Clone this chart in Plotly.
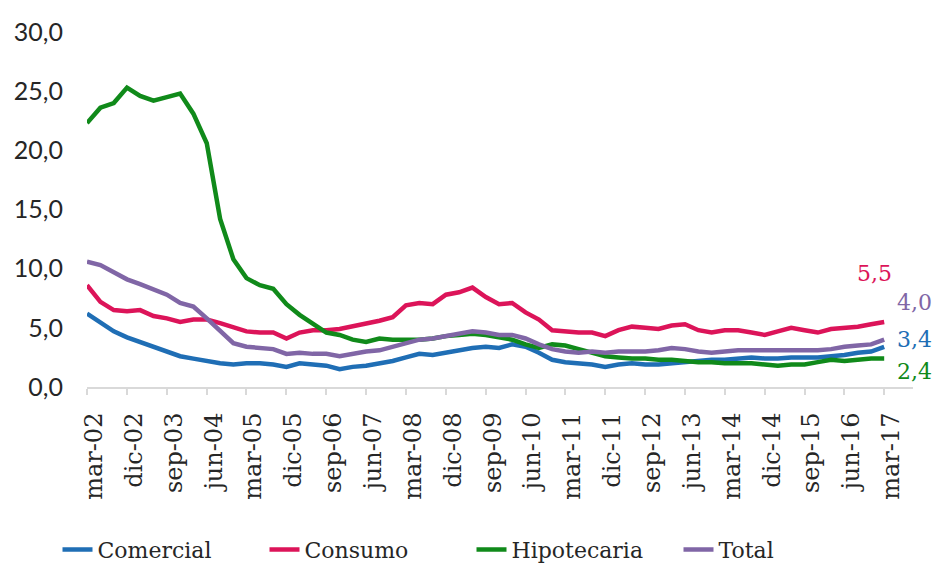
import plotly.graph_objects as go
import pandas as pd

# Quarterly observations, mar-02 .. mar-17 (61 points)
dates = pd.date_range("2002-03-01", periods=61, freq="3MS")

comercial = [6.2, 5.4, 4.7, 4.2, 3.8, 3.4, 3.0, 2.6, 2.4, 2.2,
             2.0, 1.9, 2.0, 2.0, 1.9, 1.7, 2.0, 1.9, 1.8, 1.5,
             1.7, 1.8, 2.0, 2.2, 2.5, 2.8, 2.7, 2.9, 3.1, 3.3,
             3.4, 3.3, 3.6, 3.4, 2.9, 2.3, 2.1, 2.0, 1.9, 1.7,
             1.9, 2.0, 1.9, 1.9, 2.0, 2.1, 2.2, 2.3, 2.3, 2.4,
             2.5, 2.4, 2.4, 2.5, 2.5, 2.5, 2.6, 2.7, 2.9, 3.0, 3.4]

consumo = [8.6, 7.2, 6.5, 6.4, 6.5, 6.0, 5.8, 5.5, 5.7, 5.7,
           5.4, 5.0, 4.7, 4.6, 4.6, 4.1, 4.6, 4.8, 4.8, 4.9,
           5.1, 5.3, 5.6, 5.9, 6.9, 7.1, 7.0, 7.8, 8.0, 8.4,
           7.6, 7.0, 7.1, 6.3, 5.7, 4.8, 4.7, 4.6, 4.6, 4.3,
           4.8, 5.1, 5.0, 4.9, 5.2, 5.3, 4.8, 4.6, 4.8, 4.8,
           4.6, 4.4, 4.7, 5.0, 4.8, 4.6, 4.9, 5.0, 5.1, 5.3, 5.5]

hipotecaria = [22.3, 23.6, 24.0, 25.3, 24.6, 24.2, 24.5, 24.8, 23.1, 20.6,
               14.2, 10.8, 9.2, 8.6, 8.3, 7.0, 6.1, 5.3, 4.6, 4.4,
               4.0, 3.8, 4.1, 4.0, 4.0, 4.0, 4.1, 4.3, 4.4, 4.5,
               4.4, 4.2, 4.0, 3.6, 3.3, 3.6, 3.5, 3.2, 2.9, 2.6,
               2.5, 2.4, 2.4, 2.3, 2.3, 2.2, 2.1, 2.1, 2.0, 2.0,
               2.0, 1.9, 1.8, 1.9, 1.9, 2.1, 2.3, 2.2, 2.3, 2.4, 2.4]

total = [10.6, 10.3, 9.7, 9.1, 8.7, 8.3, 7.8, 7.1, 6.8, 5.8,
         4.8, 3.7, 3.4, 3.3, 3.2, 2.8, 2.9, 2.8, 2.8, 2.6,
         2.8, 3.0, 3.1, 3.4, 3.7, 4.0, 4.1, 4.3, 4.5, 4.7,
         4.6, 4.4, 4.4, 4.1, 3.6, 3.2, 3.0, 2.9, 3.0, 2.9,
         3.0, 3.0, 3.0, 3.1, 3.3, 3.2, 3.0, 2.9, 3.0, 3.1,
         3.1, 3.1, 3.1, 3.1, 3.1, 3.1, 3.2, 3.4, 3.5, 3.6, 4.0]

tick_labels = ["mar-02", "dic-02", "sep-03", "jun-04", "mar-05", "dic-05",
               "sep-06", "jun-07", "mar-08", "dic-08", "sep-09", "jun-10",
               "mar-11", "dic-11", "sep-12", "jun-13", "mar-14", "dic-14",
               "sep-15", "jun-16", "mar-17"]
tick_dates = pd.date_range("2002-03-01", periods=len(tick_labels), freq="9MS")

y_ticks = [0, 5, 10, 15, 20, 25, 30]

series = [
    ("Comercial", comercial, "#1F6EB5", (30, 7)),
    ("Consumo", consumo, "#DC1459", (-10, 48)),
    ("Hipotecaria", hipotecaria, "#108A1A", (30, -13)),
    ("Total", total, "#8066A6", (30, 37)),
]

fig = go.Figure()
for name, vals, color, _ in series:
    fig.add_trace(go.Scatter(x=dates, y=vals, mode="lines", name=name,
                             line=dict(color=color, width=4.5)))

for name, vals, color, (dx, dy) in series:
    fig.add_annotation(x=dates[-1], y=vals[-1], xref="x", yref="y",
                       text=f"{vals[-1]:.1f}".replace(".", ","),
                       showarrow=False, xshift=dx, yshift=dy,
                       font=dict(family="DejaVu Serif", size=22, color=color))

fig.update_layout(
    width=943, height=565, autosize=False,
    margin=dict(l=87, r=30, t=32, b=178),
    paper_bgcolor="white", plot_bgcolor="white",
    separators=",.",
    showlegend=True,
    legend=dict(orientation="h", xref="container", yref="container",
                x=0.5, xanchor="center", y=0.027, yanchor="middle",
                font=dict(family="DejaVu Serif", size=22, color="#262626"),
                entrywidth=162, entrywidthmode="pixels"),
    xaxis=dict(type="date", range=["2002-03-01", "2017-09-15"],
               tickvals=tick_dates, ticktext=tick_labels, tickangle=-90,
               showline=True, linecolor="#D9D9D9", linewidth=2,
               ticks="outside", ticklen=6, tickcolor="#D9D9D9", tickwidth=2,
               ticklabelstandoff=8, ticklabelshift=7,
               showgrid=False, zeroline=False,
               tickfont=dict(family="DejaVu Serif", size=24, color="#262626")),
    yaxis=dict(range=[0, 30], tickvals=y_ticks, tickformat=".1f",
               showgrid=False, zeroline=False, showline=False,
               ticklabelstandoff=23,
               tickfont=dict(family="Lato", size=25, color="#262626")),
)

fig.write_html("out.html")
